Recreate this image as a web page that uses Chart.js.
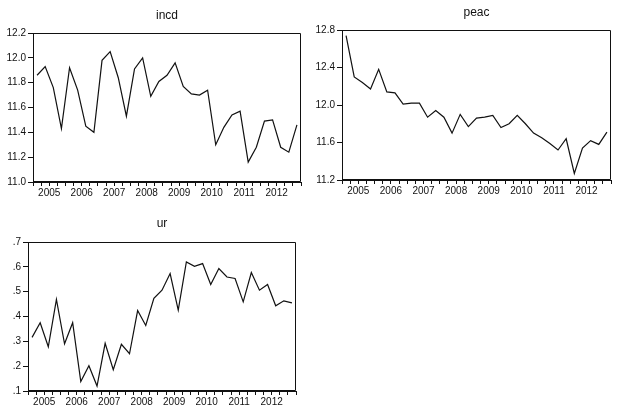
<!DOCTYPE html>
<html>
<head>
<meta charset="utf-8">
<script src="https://cdn.jsdelivr.net/npm/chart.js@4/dist/chart.umd.min.js"></script>
<style>
  html, body { margin: 0; padding: 0; background: #fff; }
  body { width: 625px; height: 413px; position: relative; overflow: hidden; }
  canvas { position: absolute; }
</style>
</head>
<body>
<canvas id="c1" width="310" height="205" style="left:0px;top:0px"></canvas>
<canvas id="c2" width="315" height="205" style="left:310px;top:0px"></canvas>
<canvas id="c3" width="310" height="208" style="left:0px;top:205px"></canvas>
<script>
// Quarterly observations, 2005Q1 .. 2013Q1
const years = ['2005','2006','2007','2008','2009','2010','2011','2012'];
const incd = [11.86, 11.93, 11.76, 11.43, 11.92, 11.74, 11.45, 11.40, 11.98, 12.05, 11.84, 11.53,
              11.91, 12.00, 11.69, 11.81, 11.86, 11.96, 11.77, 11.71, 11.70, 11.74, 11.30, 11.44,
              11.54, 11.57, 11.16, 11.28, 11.49, 11.50, 11.28, 11.24, 11.46];
const peac = [12.74, 12.30, 12.24, 12.17, 12.38, 12.14, 12.13, 12.01, 12.02, 12.02, 11.87, 11.94,
              11.87, 11.70, 11.90, 11.77, 11.86, 11.87, 11.89, 11.76, 11.80, 11.89, 11.80, 11.70,
              11.65, 11.59, 11.52, 11.64, 11.27, 11.54, 11.62, 11.58, 11.71];
const ur = [0.316, 0.375, 0.278, 0.469, 0.290, 0.375, 0.138, 0.202, 0.120, 0.292, 0.186, 0.288,
            0.250, 0.424, 0.364, 0.473, 0.506, 0.573, 0.426, 0.620, 0.602, 0.613, 0.529, 0.593,
            0.559, 0.553, 0.459, 0.577, 0.506, 0.529, 0.443, 0.463, 0.455];

const FONT = "'Liberation Sans', Arial, sans-serif";
const INK = '#111';

const framePlugin = {
  id: 'frame',
  afterDraw(chart) {
    const a = chart.chartArea, ctx = chart.ctx;
    ctx.save();
    ctx.strokeStyle = INK;
    ctx.lineWidth = 1;
    const l = Math.round(a.left) + 0.5, r = Math.round(a.right) - 0.5;
    const t = Math.round(a.top) + 0.5, b = Math.round(a.bottom) - 0.5;
    ctx.beginPath();
    ctx.moveTo(l, b); ctx.lineTo(l, t); ctx.lineTo(r, t); ctx.lineTo(r, b); ctx.lineTo(l, b);
    ctx.stroke();
    ctx.restore();
  }
};

function makeChart(id, title, values, cfg) {
  const pts = values.map((v, i) => ({ x: i + 0.5, y: v }));
  return new Chart(document.getElementById(id), {
    type: 'line',
    data: { datasets: [{ data: pts, borderColor: INK, borderWidth: 1.2, pointRadius: 0, tension: 0, fill: false }] },
    options: {
      responsive: false,
      animation: false,
      devicePixelRatio: 1,
      layout: { padding: { left: 0, right: cfg.padRight, top: 0, bottom: 0 } },
      plugins: {
        legend: { display: false },
        tooltip: { enabled: false },
        title: {
          display: true, text: title, fullSize: false, color: INK,
          font: { family: FONT, size: 12, weight: 'normal', lineHeight: 1.2 },
          padding: { top: cfg.titleTop, bottom: cfg.titleBottom }
        }
      },
      scales: {
        x: {
          type: 'linear', min: 0, max: values.length,
          afterFit: s => { s.height = cfg.xHeight; },
          border: { display: true, color: INK, width: 1 },
          grid: { display: true, drawOnChartArea: false, drawTicks: true, tickLength: 4, color: INK },
          ticks: {
            stepSize: 1, autoSkip: false, maxRotation: 0, minRotation: 0, padding: 1,
            color: INK, font: { family: FONT, size: 10 },
            callback: v => { const k = (v - 2) / 4; return (Number.isInteger(k) && k >= 0 && k < years.length) ? years[k] : ''; }
          }
        },
        y: {
          min: cfg.min, max: cfg.max,
          afterFit: s => { s.width = cfg.yWidth; },
          border: { display: true, color: INK, width: 1 },
          grid: { display: true, drawOnChartArea: false, drawTicks: true, tickLength: 5, color: INK },
          ticks: {
            stepSize: cfg.step, padding: 2, color: INK, font: { family: FONT, size: 10 },
            callback: cfg.fmt
          }
        }
      }
    },
    plugins: [framePlugin]
  });
}

makeChart('c1', 'incd', incd, {
  min: 11.0, max: 12.2, step: 0.2, fmt: v => v.toFixed(1),
  yWidth: 33, xHeight: 23, padRight: 9, titleTop: 8, titleBottom: 10.6
});
makeChart('c2', 'peac', peac, {
  min: 11.2, max: 12.8, step: 0.4, fmt: v => v.toFixed(1),
  yWidth: 32, xHeight: 25, padRight: 14, titleTop: 5, titleBottom: 10.6
});
makeChart('c3', 'ur', ur, {
  min: 0.1, max: 0.7, step: 0.1, fmt: v => v.toFixed(1).replace(/^0/, ''),
  yWidth: 28, xHeight: 22, padRight: 14, titleTop: 11, titleBottom: 11.6
});
</script>
</body>
</html>
